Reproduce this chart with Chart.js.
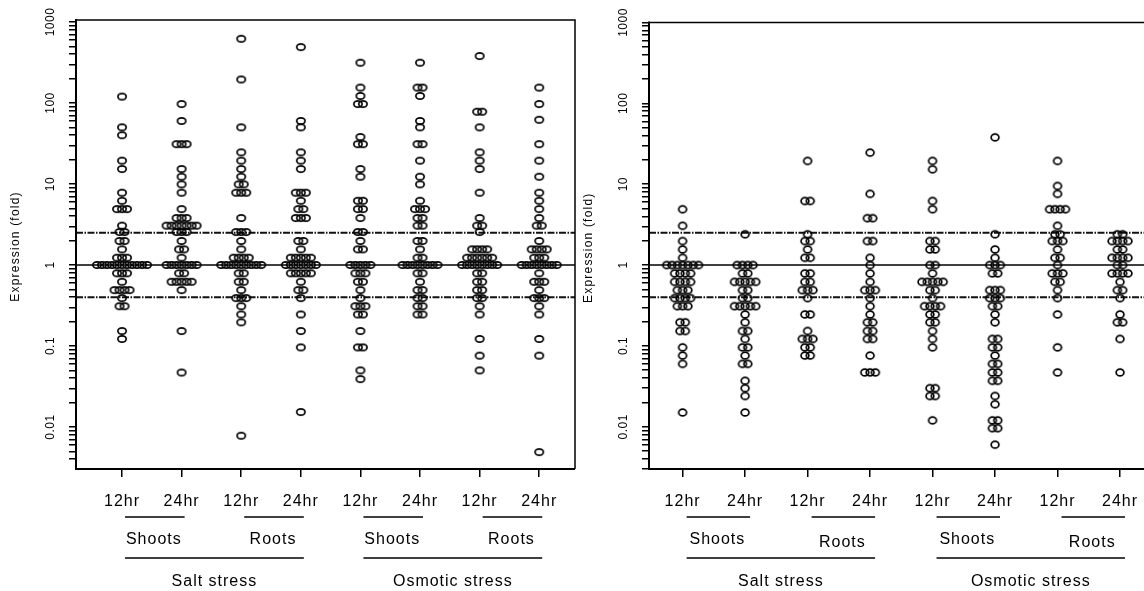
<!DOCTYPE html>
<html>
<head>
<meta charset="utf-8">
<script src="https://cdn.jsdelivr.net/npm/chart.js@4.4.0/dist/chart.umd.min.js"></script>
<style>
html, body { margin: 0; padding: 0; background: #fff; overflow: hidden; }
#wrap { position: relative; width: 1144px; height: 591px; overflow: hidden; background: #fff; }
#left { position: absolute; left: 0; top: 0; }
#right { position: absolute; left: 580px; top: 0; }
</style>
</head>
<body>
<div id="wrap">
  <canvas id="left" width="580" height="591" style="width:580px;height:591px"></canvas>
  <canvas id="right" width="600" height="591" style="width:600px;height:591px"></canvas>
</div>
<script>
// axis text
const timeLabels = ['12hr', '24hr', '12hr', '24hr', '12hr', '24hr', '12hr', '24hr'];
const tissueLabels = ['Shoots', 'Roots', 'Shoots', 'Roots'];
const stressLabels = ['Salt stress', 'Osmotic stress'];
const yLabelValues = [0.01, 0.1, 1, 10, 100, 1000];
const yLabelText = ['0.01', '0.1', '1', '10', '100', '1000'];
const yTitle = 'Expression (fold)';
const baseLine = 1;
const refLines = [2.5, 0.4];

// left panel, fold change per gene
const lSaltShoot12 = [120, 50, 40, 19.4, 15.3, 7.8, 6.2, 4.9, 4.9, 4.9, 3.06, 2.55, 2.55, 1.98, 1.98, 1.56, 1.23, 1.23, 1.23,
  1, 1, 1, 1, 1, 1, 1, 1, 1, 1, 1, 0.79, 0.79, 0.79, 0.62, 0.49, 0.49, 0.49, 0.49, 0.39, 0.31, 0.31, 0.153, 0.122];
const lSaltShoot24 = [97, 60, 31, 31, 31, 15.3, 12.3, 9.9, 7.8, 4.9, 3.8, 3.8, 3.8, 3.06, 3.06, 3.06, 3.06, 3.06, 3.06, 3.06,
  2.55, 2.55, 2.55, 1.98, 1.56, 1.56, 1.23, 1, 1, 1, 1, 1, 1, 1, 0.79, 0.79, 0.62, 0.62, 0.62, 0.62, 0.62, 0.49, 0.153, 0.047];
const lSaltRoot12 = [620, 195, 50, 24.6, 19.4, 15.3, 12.3, 9.9, 9.9, 7.8, 7.8, 7.8, 3.8, 2.55, 2.55, 2.55, 1.98, 1.56,
  1.23, 1.23, 1.23, 1.23, 1, 1, 1, 1, 1, 1, 1, 1, 1, 0.79, 0.79, 0.62, 0.62, 0.49, 0.39, 0.39, 0.39, 0.31, 0.245, 0.196, 0.0078];
const lSaltRoot24 = [490, 60, 50, 24.6, 19.4, 15.3, 7.8, 7.8, 7.8, 6.2, 4.9, 4.9, 3.8, 3.8, 3.8, 1.98, 1.98, 1.56,
  1.23, 1.23, 1.23, 1.23, 1.23, 1, 1, 1, 1, 1, 1, 1, 0.79, 0.79, 0.79, 0.79, 0.79, 0.62, 0.49, 0.49, 0.39, 0.245, 0.153, 0.096, 0.0153];
const lOsmShoot12 = [314, 155, 122, 97, 97, 38, 31, 31, 15.3, 12.3, 6.2, 6.2, 4.9, 4.9, 3.8, 2.55, 2.55, 1.98, 1.56, 1.56,
  1, 1, 1, 1, 1, 0.79, 0.79, 0.79, 0.62, 0.62, 0.49, 0.39, 0.31, 0.31, 0.31, 0.245, 0.245, 0.153, 0.096, 0.096, 0.05, 0.039];
const lOsmShoot24 = [314, 155, 155, 122, 60, 50, 31, 31, 19.4, 12.3, 9.9, 6.2, 4.9, 4.9, 4.9, 3.8, 3.8, 3.06, 3.06,
  1.98, 1.98, 1.56, 1.23, 1.23, 1, 1, 1, 1, 1, 1, 1, 1, 0.79, 0.79, 0.62, 0.49, 0.49, 0.39, 0.39, 0.31, 0.31, 0.245, 0.245];
const lOsmRoot12 = [380, 78, 78, 50, 24.6, 19.4, 15.3, 7.8, 3.8, 3.06, 3.06, 2.55, 1.56, 1.56, 1.56, 1.56,
  1.23, 1.23, 1.23, 1.23, 1.23, 1.23, 1, 1, 1, 1, 1, 1, 1, 1, 0.79, 0.79, 0.62, 0.62, 0.49, 0.49, 0.39, 0.39, 0.31, 0.245, 0.122, 0.076, 0.05];
const lOsmRoot24 = [155, 97, 62, 31, 19.4, 12.3, 7.8, 6.2, 4.9, 3.8, 3.06, 3.06, 1.98, 1.56, 1.56, 1.56, 1.56, 1.23, 1.23, 1.23,
  1, 1, 1, 1, 1, 1, 1, 1, 0.79, 0.62, 0.62, 0.62, 0.49, 0.39, 0.39, 0.39, 0.31, 0.245, 0.122, 0.076, 0.0049];

// right panel
const rSaltShoot12 = [4.9, 3.06, 1.98, 1.56, 1.23, 1, 1, 1, 1, 1, 1, 1, 0.79, 0.79, 0.79, 0.79, 0.62, 0.62, 0.62, 0.62,
  0.49, 0.49, 0.49, 0.39, 0.39, 0.39, 0.39, 0.31, 0.31, 0.31, 0.196, 0.196, 0.153, 0.153, 0.096, 0.076, 0.06, 0.015];
const rSaltShoot24 = [2.4, 1, 1, 1, 1, 0.79, 0.79, 0.62, 0.62, 0.62, 0.62, 0.62, 0.49, 0.49, 0.39, 0.39, 0.31, 0.31, 0.31, 0.31, 0.31,
  0.245, 0.196, 0.153, 0.153, 0.122, 0.096, 0.096, 0.076, 0.06, 0.06, 0.037, 0.03, 0.024, 0.015];
const rSaltRoot12 = [19.4, 6.2, 6.2, 2.4, 1.98, 1.98, 1.56, 1.23, 1.23, 0.79, 0.79, 0.62, 0.62, 0.49, 0.49, 0.49, 0.39,
  0.245, 0.245, 0.153, 0.122, 0.122, 0.122, 0.096, 0.096, 0.076, 0.076];
const rSaltRoot24 = [24.6, 7.6, 3.8, 3.8, 1.98, 1.98, 1.23, 1, 0.79, 0.62, 0.49, 0.49, 0.49, 0.39, 0.31, 0.245,
  0.196, 0.196, 0.153, 0.153, 0.122, 0.122, 0.076, 0.047, 0.047, 0.047];
const rOsmShoot12 = [19.4, 15.3, 6.2, 4.9, 1.98, 1.98, 1.56, 1.56, 1, 1, 0.79, 0.62, 0.62, 0.62, 0.62, 0.62, 0.49, 0.49, 0.39,
  0.31, 0.31, 0.31, 0.31, 0.245, 0.245, 0.196, 0.196, 0.153, 0.122, 0.096, 0.03, 0.03, 0.024, 0.024, 0.012];
const rOsmShoot24 = [38, 2.4, 1.56, 1.23, 1, 1, 1, 0.79, 0.79, 0.49, 0.49, 0.49, 0.39, 0.39, 0.39, 0.31, 0.31, 0.245, 0.196,
  0.122, 0.122, 0.096, 0.096, 0.076, 0.06, 0.06, 0.047, 0.047, 0.037, 0.037, 0.024, 0.019, 0.012, 0.012, 0.0096, 0.0096, 0.006];
const rOsmRoot12 = [19.4, 9.5, 7.6, 4.9, 4.9, 4.9, 4.9, 3.06, 2.4, 2.4, 1.98, 1.98, 1.98, 1.56, 1.23, 1.23, 1,
  0.79, 0.79, 0.79, 0.62, 0.62, 0.49, 0.39, 0.245, 0.096, 0.047];
const rOsmRoot24 = [2.4, 2.4, 1.98, 1.98, 1.98, 1.98, 1.56, 1.56, 1.23, 1.23, 1.23, 1.23, 1, 1, 0.79, 0.79, 0.79, 0.79,
  0.62, 0.49, 0.49, 0.39, 0.245, 0.196, 0.196, 0.122, 0.047];

const leftColumns = [lSaltShoot12, lSaltShoot24, lSaltRoot12, lSaltRoot24, lOsmShoot12, lOsmShoot24, lOsmRoot12, lOsmRoot24];
const rightColumns = [rSaltShoot12, rSaltShoot24, rSaltRoot12, rSaltRoot24, rOsmShoot12, rOsmShoot24, rOsmRoot12, rOsmRoot24];

const FONT = '"Liberation Sans", Arial, sans-serif';

function ellipseMarker(w, h) {
  const c = document.createElement('canvas');
  c.width = Math.ceil(w) + 2;
  c.height = Math.ceil(h) + 2;
  const g = c.getContext('2d');
  g.strokeStyle = '#000';
  g.lineWidth = 1.7;
  g.beginPath();
  g.ellipse(c.width / 2, c.height / 2, w / 2 - 0.85, h / 2 - 0.85, 0, 0, Math.PI * 2);
  g.stroke();
  return c;
}

// equal values sit side by side, centred on the column
function swarm(values, cat, step) {
  const counts = {};
  const seen = {};
  values.forEach(v => counts[v] = (counts[v] || 0) + 1);
  return values.map(v => {
    seen[v] = seen[v] === undefined ? 0 : seen[v] + 1;
    return { x: cat + (seen[v] - (counts[v] - 1) / 2) * step, y: v };
  });
}

function logTicks(min, max) {
  const out = [];
  for (let d = -3; d <= 3; d++) {
    for (let m = 1; m <= 9; m++) {
      const v = m * Math.pow(10, d);
      if (v >= min * 0.999 && v <= max * 1.001) out.push(v);
    }
  }
  return out;
}

function makePanel(id, columns, geo) {
  const areaW = geo.canvasW - geo.axisW - geo.padRight;
  const pxPerUnit = areaW / (geo.xMax - geo.xMin);
  const step = geo.spacing / pxPerUnit;
  const marker = ellipseMarker(geo.mw, geo.mh);
  const yTicks = logTicks(geo.yMin, geo.yMax);

  const decor = {
    id: 'decor',
    beforeDatasetsDraw(chart) {
      const { ctx, chartArea: a, scales: { y } } = chart;
      ctx.save();
      ctx.strokeStyle = '#000';
      ctx.lineWidth = 1.5;
      let py = y.getPixelForValue(baseLine);
      ctx.beginPath(); ctx.moveTo(a.left, py); ctx.lineTo(a.right, py); ctx.stroke();
      ctx.strokeStyle = '#111';
      ctx.lineWidth = 2;
      ctx.setLineDash([7, 1.5, 1.5, 1.5]);
      refLines.forEach(v => {
        py = y.getPixelForValue(v);
        ctx.beginPath(); ctx.moveTo(a.left, py); ctx.lineTo(a.right, py); ctx.stroke();
      });
      ctx.restore();
    },
    afterDraw(chart) {
      const { ctx, chartArea: a, scales: { x, y } } = chart;
      ctx.save();
      ctx.strokeStyle = '#000';
      // frame
      ctx.lineWidth = 1.5;
      ctx.beginPath();
      ctx.moveTo(a.left, a.top); ctx.lineTo(a.right, a.top); ctx.lineTo(a.right, a.bottom);
      ctx.stroke();
      ctx.lineWidth = 2;
      ctx.beginPath();
      ctx.moveTo(a.left, a.top - 1); ctx.lineTo(a.left, a.bottom); ctx.lineTo(a.right, a.bottom);
      ctx.stroke();

      ctx.fillStyle = '#000';
      // y tick labels, rotated
      ctx.font = '12px ' + FONT;
      ctx.letterSpacing = '0.5px';
      ctx.textAlign = 'center';
      ctx.textBaseline = 'middle';
      yLabelValues.forEach((v, i) => {
        ctx.save();
        ctx.translate(a.left - 25, y.getPixelForValue(v));
        ctx.rotate(-Math.PI / 2);
        ctx.fillText(yLabelText[i], 0, 0);
        ctx.restore();
      });
      // y title
      ctx.font = '12px ' + FONT;
      ctx.letterSpacing = '1.2px';
      ctx.save();
      ctx.translate(a.left - 60, (a.top + a.bottom) / 2 + 2);
      ctx.rotate(-Math.PI / 2);
      ctx.fillText(yTitle, 0, 0);
      ctx.restore();

      // category rows under the axis
      ctx.font = '16px ' + FONT;
      ctx.letterSpacing = '1px';
      timeLabels.forEach((t, i) => ctx.fillText(t, x.getPixelForValue(i), 502));

      ctx.lineWidth = 1.5;
      tissueLabels.forEach((t, k) => {
        const x0 = x.getPixelForValue(2 * k) + geo.lineOff[0];
        const x1 = x.getPixelForValue(2 * k + 1) + geo.lineOff[1];
        ctx.beginPath(); ctx.moveTo(x0, 517); ctx.lineTo(x1, 517); ctx.stroke();
        ctx.fillText(t, (x0 + x1) / 2 - 1, 540 + (t === 'Roots' ? geo.rootsDy : 0));
      });
      stressLabels.forEach((t, s) => {
        const x0 = x.getPixelForValue(4 * s) + geo.lineOff[0];
        const x1 = x.getPixelForValue(4 * s + 3) + geo.lineOff[1];
        ctx.beginPath(); ctx.moveTo(x0, 558); ctx.lineTo(x1, 558); ctx.stroke();
        ctx.fillText(t, (x0 + x1) / 2, 582);
      });
      ctx.restore();
    }
  };

  return new Chart(document.getElementById(id), {
    type: 'scatter',
    data: {
      datasets: columns.map((vals, i) => ({
        label: timeLabels[i],
        data: swarm(vals, i, step),
        pointStyle: marker,
        pointRadius: 4,
        pointHoverRadius: 4
      }))
    },
    options: {
      responsive: false,
      animation: false,
      devicePixelRatio: 1,
      layout: { padding: { top: geo.top, right: geo.padRight, bottom: 0, left: 0 } },
      plugins: { legend: { display: false }, tooltip: { enabled: false } },
      scales: {
        x: {
          type: 'linear',
          min: geo.xMin,
          max: geo.xMax,
          afterBuildTicks: s => { s.ticks = timeLabels.map((t, i) => ({ value: i })); },
          afterFit: s => { s.height = 591 - geo.bottom; },
          ticks: { display: false },
          border: { display: false },
          grid: { drawOnChartArea: false, color: '#000', lineWidth: 1.5, tickLength: 8 }
        },
        y: {
          type: 'logarithmic',
          min: geo.yMin,
          max: geo.yMax,
          afterBuildTicks: s => { s.ticks = yTicks.map(v => ({ value: v })); },
          afterFit: s => { s.width = geo.axisW; },
          ticks: { display: false },
          border: { display: false },
          grid: { drawOnChartArea: false, color: '#000', lineWidth: 1.5, tickLength: 7 }
        }
      }
    },
    plugins: [decor]
  });
}

makePanel('left', leftColumns, {
  canvasW: 580, axisW: 76, padRight: 5, top: 20, bottom: 469,
  xMin: -0.772, xMax: 7.60, yMin: 0.00303, yMax: 1058,
  mw: 10, mh: 8, spacing: 5, lineOff: [3, 3], rootsDy: 0
});

makePanel('right', rightColumns, {
  canvasW: 600, axisW: 69, padRight: 10, top: 22.5, bottom: 469,
  xMin: -0.538, xMax: 7.80, yMin: 0.003, yMax: 1000,
  mw: 9.5, mh: 8.5, spacing: 5.3, lineOff: [4, 5], rootsDy: 3
});
</script>
</body>
</html>
